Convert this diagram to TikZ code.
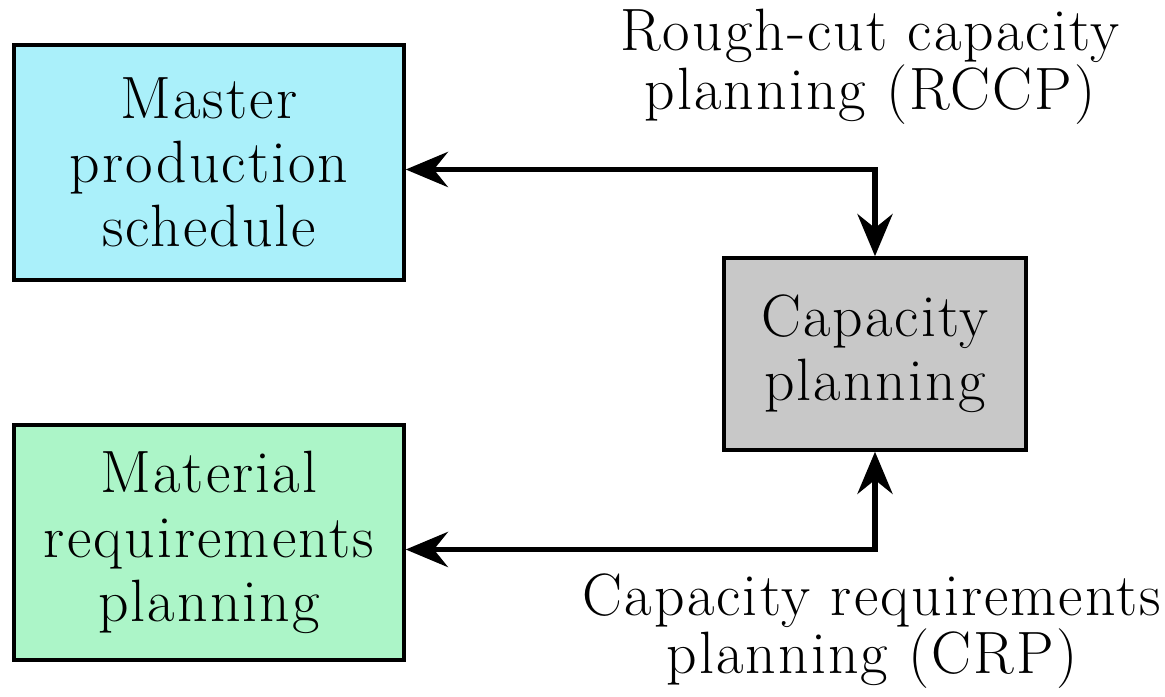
\documentclass[tikz,border=0pt]{standalone}
\usepackage{fontspec}
\setmainfont{Latin Modern Roman}[LetterSpace=3.5]
\usetikzlibrary{arrows.meta}
\definecolor{mpscyan}{RGB}{170,240,250}
\definecolor{mrpgreen}{RGB}{172,245,200}
\definecolor{capgray}{RGB}{200,200,200}
\begin{document}
\begin{tikzpicture}[
    box/.style={draw, line width=1pt, align=center, inner sep=0pt,
      font=\fontsize{17}{18.3}\selectfont},
    link/.style={line width=1.5pt, {Stealth[length=12pt,width=10pt,inset=4pt]}-{Stealth[length=12pt,width=10pt,inset=4pt]}},
    note/.style={align=center, font=\fontsize{17}{16.7}\selectfont}
  ]
  \useasboundingbox (0, 0) rectangle (11.65, 6.97) ;
  % boxes
  \node[box, fill=mpscyan, minimum width=3.9cm, minimum height=2.35cm] (mps) at (2.09, 5.345) {Master\\production\\schedule} ;
  \node[box, fill=mrpgreen, minimum width=3.9cm, minimum height=2.35cm] (mrp) at (2.09, 1.545) {Material\\requirements\\planning} ;
  \node[box, fill=capgray, minimum width=3.02cm, minimum height=1.92cm] (cap) at (8.75, 3.43) {Capacity\\planning} ;
  % connectors
  \draw[link] ([yshift=-2pt]mps.east) -| (cap.north) ;
  \draw[link] ([yshift=-2pt]mrp.east) -| (cap.south) ;
  % labels
  \node[note] (rccp) at (8.70, 6.30) {Rough-cut capacity\\planning (RCCP)} ;
  \node[note] (crp) at (8.72, 0.66) {Capacity requirements\\planning (CRP)} ;
\end{tikzpicture}
\end{document}
